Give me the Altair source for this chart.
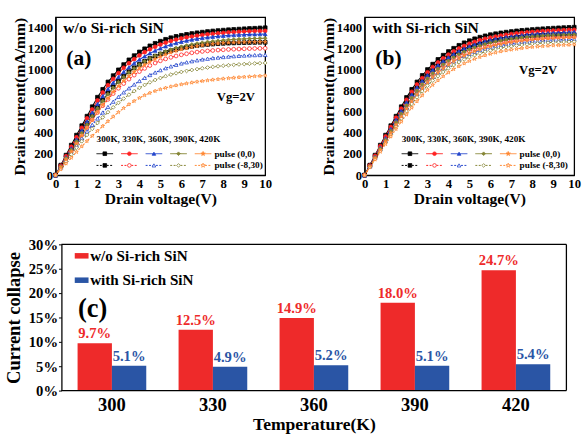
import altair as alt
import pandas as pd

FONT = "Liberation Serif"

# ---------------- data ----------------
V = [0, 0.25, 0.5, 0.75, 1, 1.25, 1.5, 1.75, 2, 2.25, 2.5, 2.75, 3, 3.25, 3.5, 3.75,
     4, 4.25, 4.5, 4.75, 5, 5.25, 5.5, 5.75, 6, 6.25, 6.5, 6.75, 7, 7.25, 7.5, 7.75,
     8, 8.25, 8.5, 8.75, 9, 9.25, 9.5, 9.75, 10]
TEMPS = ["300K", "330K", "360K", "390K", "420K"]
CONDS = ["pulse (0,0)", "pulse (-8,30)"]

# panel (a): w/o Si-rich SiN
a300s = [0, 95, 190, 285, 380, 470, 560, 650, 740, 815, 885, 945, 1000, 1050, 1095, 1135, 1170, 1200, 1228, 1252, 1272, 1290, 1305, 1318, 1328, 1337, 1345, 1352, 1358, 1364, 1369, 1373, 1377, 1381, 1384, 1387, 1390, 1393, 1395, 1398, 1400]
a330s = [0, 90, 180, 270, 360, 450, 540, 625, 710, 785, 855, 915, 970, 1020, 1063, 1102, 1137, 1168, 1195, 1219, 1240, 1258, 1274, 1287, 1298, 1308, 1316, 1324, 1331, 1337, 1342, 1347, 1351, 1355, 1358, 1361, 1364, 1366, 1368, 1369, 1370]
a360s = [0, 85, 170, 255, 340, 425, 510, 595, 675, 750, 818, 878, 932, 980, 1024, 1063, 1098, 1129, 1157, 1182, 1204, 1223, 1240, 1254, 1266, 1277, 1287, 1295, 1302, 1308, 1314, 1319, 1323, 1327, 1330, 1333, 1335, 1337, 1338, 1339, 1340]
a390s = [0, 80, 160, 240, 320, 400, 480, 560, 635, 705, 770, 830, 884, 932, 975, 1014, 1049, 1081, 1109, 1134, 1156, 1175, 1192, 1207, 1220, 1231, 1241, 1250, 1258, 1265, 1271, 1276, 1281, 1285, 1289, 1292, 1294, 1296, 1298, 1299, 1300]
a420s = [0, 75, 150, 225, 300, 375, 450, 525, 597, 665, 730, 790, 845, 895, 940, 980, 1016, 1048, 1077, 1103, 1126, 1146, 1164, 1180, 1194, 1206, 1216, 1225, 1233, 1240, 1246, 1251, 1255, 1258, 1260, 1262, 1263, 1264, 1264, 1265, 1265]
a300d = [0, 85, 170, 250, 330, 410, 490, 570, 645, 715, 780, 840, 893, 940, 983, 1020, 1053, 1082, 1108, 1130, 1150, 1167, 1182, 1195, 1206, 1215, 1223, 1230, 1236, 1241, 1245, 1249, 1252, 1254, 1256, 1258, 1259, 1260, 1261, 1262, 1262]
a330d = [0, 78, 155, 232, 308, 383, 455, 527, 595, 660, 720, 775, 825, 870, 912, 950, 984, 1014, 1041, 1065, 1086, 1104, 1119, 1132, 1143, 1153, 1162, 1169, 1175, 1180, 1184, 1188, 1191, 1194, 1196, 1198, 1200, 1202, 1203, 1204, 1205]
a360d = [0, 72, 143, 213, 282, 350, 415, 478, 538, 595, 648, 698, 744, 786, 825, 861, 894, 924, 951, 975, 997, 1016, 1033, 1048, 1061, 1072, 1082, 1091, 1099, 1106, 1112, 1117, 1122, 1126, 1130, 1133, 1136, 1138, 1140, 1141, 1142]
a390d = [0, 66, 132, 197, 260, 322, 382, 440, 496, 549, 598, 644, 687, 727, 764, 798, 829, 857, 882, 904, 923, 940, 955, 968, 980, 990, 999, 1007, 1015, 1022, 1028, 1034, 1039, 1044, 1048, 1052, 1055, 1058, 1061, 1063, 1066]
a420d = [0, 55, 110, 165, 220, 273, 324, 373, 420, 466, 512, 556, 598, 637, 672, 704, 733, 759, 781, 799, 815, 829, 841, 852, 862, 871, 879, 887, 894, 900, 906, 911, 916, 921, 925, 929, 933, 936, 939, 942, 945]

# panel (b): with Si-rich SiN
b300s = [0, 95, 190, 285, 380, 470, 560, 650, 738, 815, 885, 947, 1003, 1054, 1099, 1139, 1174, 1205, 1233, 1257, 1277, 1295, 1310, 1323, 1334, 1343, 1351, 1358, 1364, 1370, 1375, 1379, 1383, 1387, 1390, 1393, 1396, 1399, 1401, 1403, 1405]
b330s = [0, 92, 184, 276, 368, 458, 546, 632, 716, 792, 861, 922, 977, 1027, 1071, 1110, 1145, 1176, 1203, 1227, 1248, 1266, 1282, 1295, 1306, 1316, 1325, 1333, 1340, 1346, 1351, 1356, 1360, 1364, 1367, 1370, 1373, 1375, 1377, 1379, 1380]
b360s = [0, 88, 176, 264, 352, 440, 526, 610, 692, 766, 834, 895, 950, 1000, 1044, 1084, 1119, 1150, 1178, 1202, 1223, 1241, 1257, 1271, 1283, 1294, 1303, 1311, 1318, 1324, 1330, 1335, 1339, 1343, 1346, 1349, 1352, 1354, 1356, 1358, 1360]
b390s = [0, 84, 168, 252, 336, 420, 502, 583, 662, 735, 802, 862, 917, 966, 1010, 1050, 1086, 1118, 1146, 1171, 1193, 1212, 1229, 1244, 1257, 1268, 1278, 1287, 1294, 1301, 1307, 1312, 1316, 1320, 1324, 1327, 1329, 1331, 1333, 1334, 1335]
b420s = [0, 80, 160, 240, 320, 400, 478, 555, 630, 700, 765, 825, 880, 929, 973, 1013, 1049, 1081, 1110, 1135, 1157, 1177, 1195, 1210, 1224, 1236, 1246, 1255, 1263, 1270, 1276, 1282, 1287, 1291, 1295, 1299, 1302, 1304, 1306, 1308, 1310]
b300d = [0, 90, 180, 268, 356, 443, 528, 612, 694, 768, 836, 896, 950, 999, 1043, 1082, 1116, 1146, 1173, 1196, 1216, 1233, 1248, 1261, 1272, 1282, 1290, 1297, 1303, 1309, 1314, 1318, 1321, 1324, 1327, 1329, 1331, 1332, 1333, 1334, 1335]
b330d = [0, 86, 172, 258, 343, 427, 509, 589, 667, 739, 805, 864, 917, 965, 1008, 1046, 1080, 1110, 1137, 1160, 1180, 1198, 1213, 1226, 1238, 1248, 1257, 1265, 1272, 1278, 1284, 1289, 1293, 1297, 1300, 1303, 1306, 1308, 1310, 1311, 1312]
b360d = [0, 82, 164, 246, 327, 407, 486, 563, 638, 708, 773, 832, 885, 933, 976, 1015, 1049, 1080, 1107, 1131, 1152, 1171, 1187, 1201, 1213, 1224, 1234, 1242, 1250, 1256, 1262, 1267, 1272, 1276, 1279, 1282, 1284, 1286, 1288, 1289, 1290]
b390d = [0, 78, 156, 234, 311, 388, 463, 537, 609, 677, 740, 798, 850, 898, 941, 980, 1015, 1046, 1074, 1099, 1121, 1140, 1157, 1172, 1185, 1197, 1207, 1216, 1224, 1231, 1237, 1242, 1247, 1251, 1255, 1258, 1261, 1263, 1265, 1266, 1267]
b420d = [0, 74, 148, 222, 295, 367, 438, 508, 576, 641, 702, 758, 810, 857, 900, 939, 975, 1007, 1035, 1061, 1084, 1104, 1122, 1138, 1152, 1164, 1175, 1184, 1192, 1199, 1206, 1212, 1217, 1221, 1225, 1229, 1232, 1234, 1236, 1238, 1240]

# panel (c): current collapse (%)
TEMP_C = ["300", "330", "360", "390", "420"]
GROUPS = ["w/o Si-rich SiN", "with Si-rich SiN"]
collapse_wo = [9.7, 12.5, 14.9, 18.0, 24.7]
collapse_with = [5.1, 4.9, 5.2, 5.1, 5.4]

# ---------------- styles ----------------
LINE_COLORS = ["#000000", "#ff2222", "#2244cc", "#858535", "#ff8833"]
STAR = "M0,-1L0.2245,-0.309L0.951,-0.309L0.363,0.118L0.588,0.809L0,0.382L-0.588,0.809L-0.363,0.118L-0.951,-0.309L-0.2245,-0.309Z"
SHAPES = ["square", "circle", "triangle-up", "diamond", STAR]
BAR_COLORS = ["#ee2a2a", "#2a55a5"]


def build_df(solid, dotted):
    rows = []
    for ti, t in enumerate(TEMPS):
        for ci, (cond, series) in enumerate([(CONDS[0], solid[ti]), (CONDS[1], dotted[ti])]):
            if len(series) != len(V):
                raise ValueError(f"length mismatch {t} {cond}: {len(series)}")
            col = LINE_COLORS[ti]
            fillc = col if (ci == 0 or ti == 0) else "white"
            for v, i in zip(V, series):
                rows.append({"V": v, "I": i, "T": t, "cond": cond, "fillc": fillc})
    return pd.DataFrame(rows)


df_a = build_df([a300s, a330s, a360s, a390s, a420s], [a300d, a330d, a360d, a390d, a420d])
df_b = build_df([b300s, b330s, b360s, b390s, b420s], [b300d, b330d, b360d, b390d, b420d])

PW, PH = 215, 162
ONE = pd.DataFrame({"k": [0]})


def panel(df, label, letter, vg_x, vg_y, legend_x):
    x = alt.X("V:Q", scale=alt.Scale(domain=[0, 10], nice=False),
              axis=alt.Axis(values=list(range(11)), title="Drain voltage(V)", tickSize=0,
                            labelFontSize=13, labelPadding=3, titleFontSize=16, titlePadding=0,
                            labelFlush=False))
    y = alt.Y("I:Q", scale=alt.Scale(domain=[0, 1500], nice=False),
              axis=alt.Axis(values=[0, 200, 400, 600, 800, 1000, 1200, 1400], title="Drain current(mA/mm)",
                            format="d", tickSize=0, labelFontSize=13, labelPadding=3, titleFontSize=16,
                            titlePadding=0))
    color = alt.Color("T:N", scale=alt.Scale(domain=TEMPS, range=LINE_COLORS), legend=None)
    stroke = alt.Stroke("T:N", scale=alt.Scale(domain=TEMPS, range=LINE_COLORS), legend=None)
    dash = alt.StrokeDash("cond:N", scale=alt.Scale(domain=CONDS, range=[[1, 0], [2, 1.5]]), legend=None)
    shape = alt.Shape("T:N", scale=alt.Scale(domain=TEMPS, range=SHAPES), legend=None)

    base = alt.Chart(df)
    lines = base.mark_line(strokeWidth=1.1).encode(x=x, y=y, color=color, strokeDash=dash)
    pts = base.mark_point(filled=True, size=15, strokeWidth=0.8, opacity=1).encode(
        x=x, y=y, shape=shape, stroke=stroke, fill=alt.Fill("fillc:N", scale=None))

    layers = [lines, pts]

    def txt(s, px, py, size, align="left", color="black"):
        return alt.Chart(ONE).mark_text(text=s, font=FONT, fontWeight="bold", fontSize=size,
                                        align=align, baseline="middle", color=color).encode(
            x=alt.value(px), y=alt.value(py))

    layers.append(txt(label, 8, 11, 16))
    layers.append(txt(letter, 11, 42, 22))
    layers.append(txt("Vg=2V", vg_x, vg_y, 13, align="center"))
    layers.append(txt("300K, 330K, 360K, 390K, 420K", legend_x, 125, 9.5))
    for r, cond in enumerate(CONDS):
        yy = 140 + 12 * r
        for i, t in enumerate(TEMPS):
            x0 = legend_x + 25.2 * i
            col = LINE_COLORS[i]
            fillc = col if (r == 0 or i == 0) else "white"
            layers.append(alt.Chart(ONE).mark_rule(color=col, strokeWidth=1,
                                                   strokeDash=[1, 0] if r == 0 else [2, 1.5]).encode(
                x=alt.value(x0), x2=alt.value(x0 + 17), y=alt.value(yy)))
            layers.append(alt.Chart(ONE).mark_point(shape=SHAPES[i], size=22 if i == 4 else 14, filled=True,
                                                    fill=fillc, stroke=col, strokeWidth=0.8, opacity=1).encode(
                x=alt.value(x0 + 8.5), y=alt.value(yy)))
        layers.append(txt(cond, legend_x + 121, yy, 9.5))
    return alt.layer(*layers).properties(width=PW, height=PH)


pa = panel(df_a, "w/o Si-rich SiN", "(a)", 185, 82, 42)
pb = panel(df_b, "with Si-rich SiN", "(b)", 178, 54, 38)

# ---------------- bar chart ----------------
# the group origin is shared with panel (a); the bar plot itself starts SH px further right
SH = 6
CW, CH = 518 + SH, 150
rows = []
for t, a, b in zip(TEMP_C, collapse_wo, collapse_with):
    rows.append({"temp": t, "grp": GROUPS[0], "val": a / 100})
    rows.append({"temp": t, "grp": GROUPS[1], "val": b / 100})
dfc = pd.DataFrame(rows)

xc = alt.X("temp:N", sort=TEMP_C, scale=alt.Scale(range=[SH, CW], paddingInner=0.32, paddingOuter=0.16),
           axis=alt.Axis(title="Temperature(K)", labelAngle=0, tickSize=0, labelFontSize=19, domain=False,
                         labelPadding=5, titleFontSize=18, titlePadding=2))
yc = alt.Y("val:Q", scale=alt.Scale(domain=[0, 0.3], nice=False),
           axis=alt.Axis(format=".0%", values=[0, 0.05, 0.1, 0.15, 0.2, 0.25, 0.3], title="Current collapse",
                         offset=-SH, tickSize=3, labelFontSize=15, labelPadding=1, titleFontSize=19,
                         titlePadding=5))
cc = alt.Color("grp:N", sort=GROUPS, scale=alt.Scale(domain=GROUPS, range=BAR_COLORS),
               legend=alt.Legend(title=None, orient="none", legendX=13 + SH, legendY=4,
                                 symbolType="M-1,-0.4H1V0.4H-1Z", symbolSize=200, symbolStrokeWidth=0,
                                 labelFont=FONT, labelFontSize=15.5, labelFontWeight="bold",
                                 labelColor="black", rowPadding=8, padding=0, labelOffset=1))
bars = alt.Chart(dfc).mark_bar().encode(x=xc, y=yc, xOffset=alt.XOffset("grp:N", sort=GROUPS), color=cc)
labels = alt.Chart(dfc).mark_text(font=FONT, fontWeight="bold", fontSize=15, baseline="bottom", dy=-2).encode(
    x=xc, y=yc, xOffset=alt.XOffset("grp:N", sort=GROUPS),
    color=alt.Color("grp:N", scale=alt.Scale(domain=GROUPS, range=BAR_COLORS), legend=None),
    text=alt.Text("val:Q", format=".1%"))
cletter = alt.Chart(ONE).mark_text(text="(c)", font=FONT, fontWeight="bold", fontSize=27,
                                   align="left", baseline="middle").encode(
    x=alt.value(17 + SH), y=alt.value(67))
frame_top = alt.Chart(ONE).mark_rule(color="black", strokeWidth=1.3).encode(
    x=alt.value(SH), x2=alt.value(CW), y=alt.value(0))
frame_bottom = alt.Chart(ONE).mark_rule(color="black", strokeWidth=1.3).encode(
    x=alt.value(SH), x2=alt.value(CW), y=alt.value(CH))
frame_right = alt.Chart(ONE).mark_rule(color="black", strokeWidth=1.3).encode(
    x=alt.value(CW), y=alt.value(0), y2=alt.value(CH))
pc = alt.layer(bars, labels, cletter, frame_top, frame_bottom, frame_right).properties(
    width=CW, height=CH, view=alt.ViewBackground(stroke="transparent"))

top = alt.hconcat(pa, pb, spacing=48)
chart = alt.concat(top, pc, columns=1, spacing=30, align="none").resolve_scale(
    color="independent", stroke="independent", shape="independent", strokeDash="independent"
).properties(
    padding={"left": 4, "top": 11, "right": 0, "bottom": 0}
).configure(font=FONT).configure_view(stroke="black", strokeWidth=1.3).configure_axis(
    labelFont=FONT, titleFont=FONT, labelFontWeight="bold", titleFontWeight="bold",
    labelColor="black", titleColor="black", domainColor="black", domainWidth=1.3,
    tickColor="black", grid=False)

chart.save("out.html", embed_options={"renderer": "svg", "actions": False})
